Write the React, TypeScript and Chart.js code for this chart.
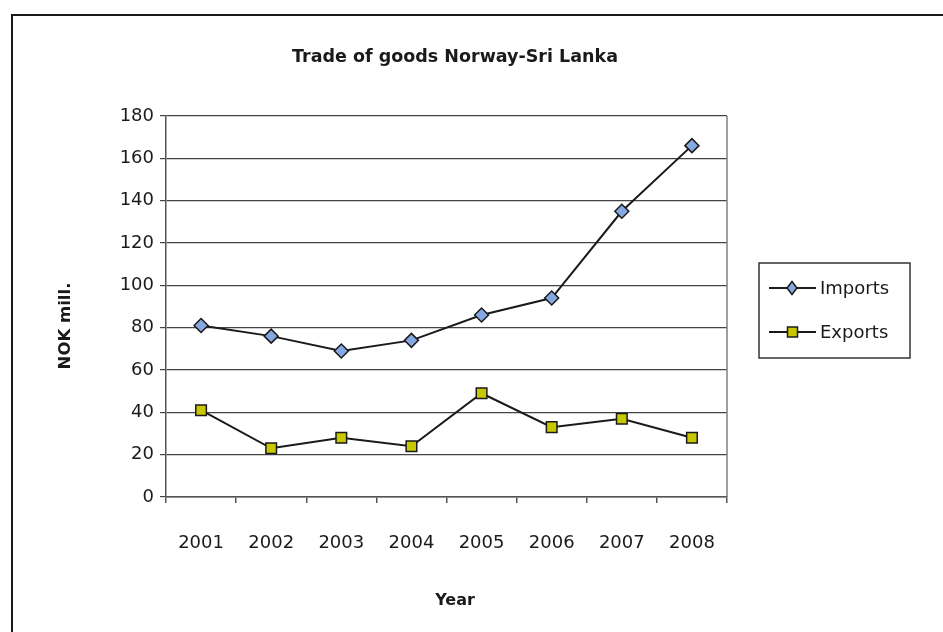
import React, { useEffect, useRef } from "react";
import { Chart, registerables } from "chart.js";

Chart.register(...registerables);

const years = ["2001", "2002", "2003", "2004", "2005", "2006", "2007", "2008"];
const imports = [81, 76, 69, 74, 86, 94, 135, 166];
const exports = [41, 23, 28, 24, 49, 33, 37, 28];
const yTicks = [0, 20, 40, 60, 80, 100, 120, 140, 160, 180];

const chartTitle = "Trade of goods Norway-Sri Lanka";
const xTitle = "Year";
const yTitle = "NOK mill.";
const seriesNames = ["Imports", "Exports"];

const FONT = "'DejaVu Sans', Verdana, sans-serif";

const decorPlugin = {
  id: "decor",
  afterDraw(chart: any) {
    const { ctx, chartArea } = chart;
    ctx.save();
    // outer frame (top & left)
    ctx.strokeStyle = "#1a1a1a";
    ctx.lineWidth = 2;
    ctx.beginPath();
    ctx.moveTo(12, 632);
    ctx.lineTo(12, 15);
    ctx.lineTo(943, 15);
    ctx.stroke();
    // plot frame right
    ctx.strokeStyle = "#808080";
    ctx.lineWidth = 1.5;
    ctx.beginPath();
    ctx.moveTo(chartArea.right, chartArea.top);
    ctx.lineTo(chartArea.right, chartArea.bottom);
    ctx.stroke();
    // titles
    ctx.fillStyle = "#1a1a1a";
    ctx.textAlign = "center";
    ctx.textBaseline = "middle";
    ctx.font = `bold 17.5px ${FONT}`;
    ctx.fillText(chartTitle, 455, 57);
    ctx.font = `bold 16px ${FONT}`;
    ctx.fillText(xTitle, 455, 601);
    ctx.save();
    ctx.translate(66, 326);
    ctx.rotate(-Math.PI / 2);
    ctx.font = `bold 16.5px ${FONT}`;
    ctx.fillText(yTitle, 0, 0);
    ctx.restore();
    // legend
    const lx = 759, ly = 263, lw = 151, lh = 95;
    ctx.strokeStyle = "#333";
    ctx.lineWidth = 1.5;
    ctx.strokeRect(lx, ly, lw, lh);
    const rows = [288, 332];
    chart.data.datasets.forEach((ds: any, i: number) => {
      const y = rows[i];
      ctx.strokeStyle = "#1a1a1a";
      ctx.lineWidth = 2;
      ctx.beginPath();
      ctx.moveTo(769, y);
      ctx.lineTo(816, y);
      ctx.stroke();
      ctx.fillStyle = ds.pointBackgroundColor;
      ctx.strokeStyle = "#1a1a1a";
      ctx.lineWidth = 1.5;
      ctx.beginPath();
      if (ds.pointStyle === "rectRot") {
        ctx.moveTo(792, y - 6.5);
        ctx.lineTo(797, y);
        ctx.lineTo(792, y + 6.5);
        ctx.lineTo(787, y);
        ctx.closePath();
      } else {
        ctx.rect(787.5, y - 5, 10, 10);
      }
      ctx.fill();
      ctx.stroke();
      ctx.fillStyle = "#1a1a1a";
      ctx.font = `18px ${FONT}`;
      ctx.textAlign = "left";
      ctx.fillText(ds.label, 820, y + 1);
    });
    ctx.restore();
  },
};

export default function App() {
  const ref = useRef<HTMLCanvasElement>(null);
  useEffect(() => {
    if (!ref.current) return;
    const chart = new Chart(ref.current, {
      type: "line",
      data: {
        labels: years,
        datasets: [
          {
            label: seriesNames[0],
            data: imports,
            borderColor: "#1a1a1a",
            borderWidth: 2,
            pointStyle: "rectRot",
            pointRadius: 7,
            pointBackgroundColor: "#85a8e0",
            pointBorderColor: "#1a1a1a",
            pointBorderWidth: 1.5,
            tension: 0,
          },
          {
            label: seriesNames[1],
            data: exports,
            borderColor: "#1a1a1a",
            borderWidth: 2,
            pointStyle: "rect",
            pointRadius: 7.5,
            pointBackgroundColor: "#c8c800",
            pointBorderColor: "#1a1a1a",
            pointBorderWidth: 1.5,
            tension: 0,
          },
        ],
      },
      options: {
        responsive: false,
        animation: false,
        layout: { padding: { left: 0, top: 116, right: 216, bottom: 75 } },
        plugins: { legend: { display: false }, title: { display: false }, tooltip: { enabled: false } },
        scales: {
          x: {
            offset: true,
            grid: { offset: true, drawOnChartArea: false, tickLength: 6, color: "#555", lineWidth: 1.5 },
            border: { color: "#555", width: 1.5 },
            ticks: { color: "#1a1a1a", font: { family: FONT, size: 18 }, padding: 30, maxRotation: 0 },
            afterFit: (s: any) => { s.height = 60; },
          },
          y: {
            min: 0,
            max: 180,
            afterBuildTicks: (s: any) => { s.ticks = yTicks.map((v) => ({ value: v })); },
            grid: { color: "#444", lineWidth: 1.2, tickLength: 6 },
            border: { color: "#555", width: 1.5 },
            ticks: { color: "#1a1a1a", font: { family: FONT, size: 18 }, padding: 6 },
            afterFit: (s: any) => { s.width = 166; },
          },
        },
      },
      plugins: [decorPlugin],
    });
    return () => chart.destroy();
  }, []);
  return (
    <div style={{ position: "fixed", left: 0, top: 0, width: 943, height: 632, background: "#fff" }}>
      <canvas ref={ref} width={943} height={632} style={{ display: "block" }} />
    </div>
  );
}
